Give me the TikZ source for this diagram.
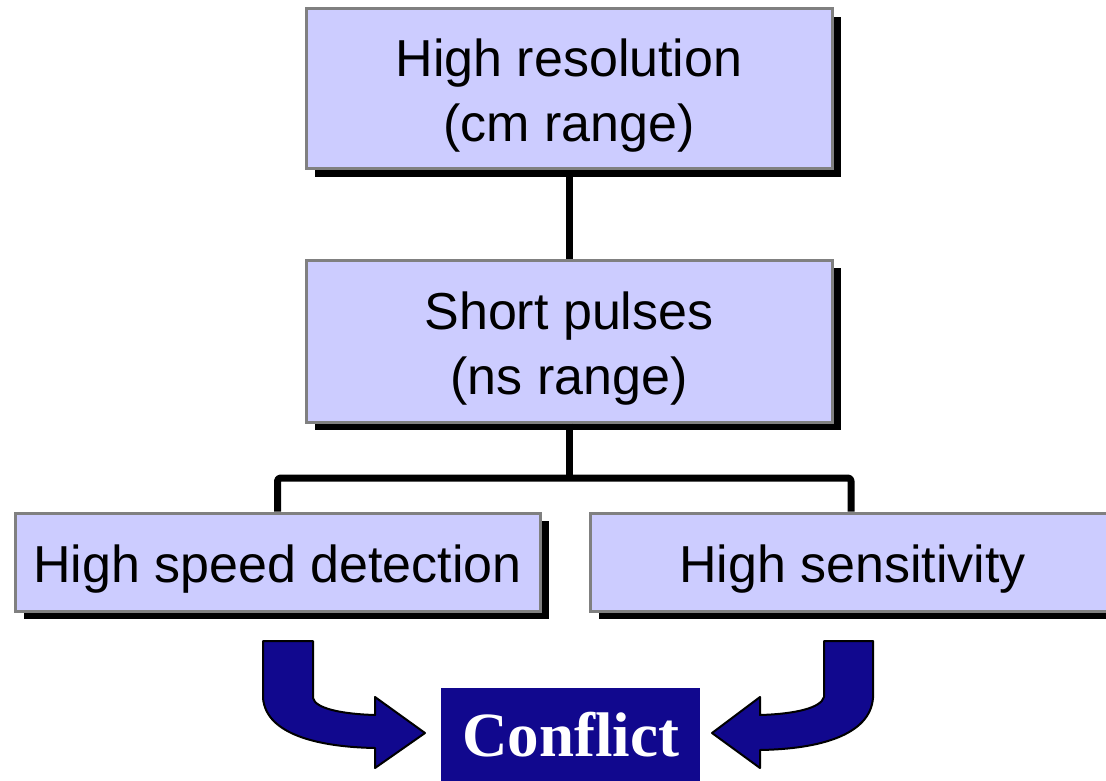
\documentclass[tikz,border=0pt]{standalone}
\usepackage{fontspec}
\setmainfont{Liberation Sans}
\newfontfamily\serifbold{Liberation Serif}
\usetikzlibrary{shadows}
\definecolor{boxfill}{HTML}{CCCCFF}
\definecolor{boxedge}{HTML}{808080}
\definecolor{navy}{RGB}{17,8,142}
% centred lines, set a little below the box centre
\newcommand\boxlines[1]{\raisebox{-7.5pt}[\height][\depth]{\begin{tabular}{@{}c@{}}#1\end{tabular}}}
\begin{document}
\begin{tikzpicture}[x=1pt,y=-1pt,
  block/.style={draw=boxedge, line width=3pt, fill=boxfill, inner sep=0pt,
    font=\fontsize{52}{65}\selectfont,
    drop shadow={shadow xshift=9pt, shadow yshift=-8pt, opacity=1, fill=black}},
  link/.style={line width=7pt, line join=round},
  bendarrow/.style={fill=navy, draw=black, line width=2pt, line join=round}]
\useasboundingbox (0,0) rectangle (1106,781);

% hierarchy of requirements
\node[block, minimum width=526pt, minimum height=160pt] (res) at (569,89)
  {\boxlines{High resolution\\(cm range)}};
\node[block, minimum width=526pt, minimum height=162pt] (pulse) at (569,341)
  {\boxlines{Short pulses\\(ns range)}};
\node[block, minimum width=525pt, minimum height=98pt] (speed) at (277.5,562)
  {\boxlines{High speed detection}};
\node[block, minimum width=522pt, minimum height=98pt] (sens) at (851,562)
  {\boxlines{\hspace*{3pt}High sensitivity}};

\coordinate (split) at (569,478);
\draw[link] (res.south) -- (pulse.north);
\draw[link] (pulse.south) -- (split);
\draw[link, rounded corners=3pt] (speed.north) |- (split) -| (sens.north);

% result
\node[fill=navy, text=white, minimum width=259pt, minimum height=94pt, inner sep=0pt,
  font=\serifbold\bfseries\fontsize{63}{63}\selectfont] (conf) at (570.5,735)
  {\raisebox{-2pt}{Conflict}};

% curved arrows into the result
\draw[bendarrow] (263,641) -- (313,641) -- (313,698)
  .. controls (315,708) and (340,714) .. (375,715) -- (375,697)
  -- (425,733) -- (375,768) -- (375,748)
  .. controls (320,747) and (266,735) .. (263,698) -- cycle;
\draw[bendarrow] (873,641) -- (824,641) -- (824,697)
  .. controls (821,708) and (795,714) .. (760,715) -- (760,697)
  -- (712,733) -- (760,768) -- (760,750)
  .. controls (820,749) and (870,735) .. (873,698) -- cycle;
\end{tikzpicture}
\end{document}
